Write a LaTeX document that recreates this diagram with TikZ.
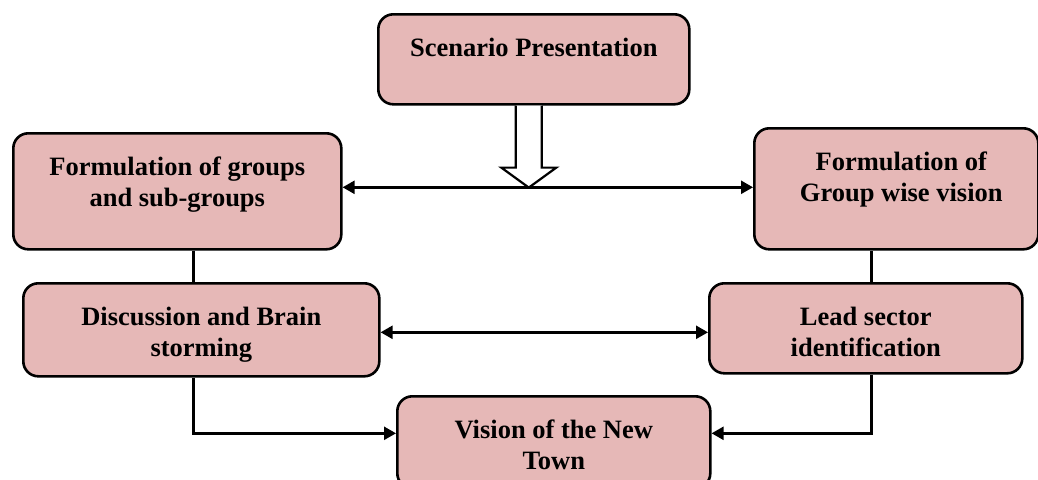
\documentclass[tikz,border=0pt]{standalone}
\usepackage{fontspec}
\setmainfont{Liberation Serif}
\usetikzlibrary{arrows.meta}
\definecolor{boxfill}{HTML}{E6B8B7}
% box text: fixed height, first baseline 42pt below the top edge
\newcommand\boxtxt[3]{\parbox[c][#1][t]{#2}{\centering\rule{0pt}{42pt}#3\par}}
\tikzset{
  stagebox/.style={draw=black, fill=boxfill, line width=2.6pt, rounded corners=15pt,
    inner sep=0pt, font=\fontsize{26.5}{31.5}\selectfont\bfseries, anchor=north west},
  link/.style={draw=black, line width=2.4pt},
  twoway/.style={link, {Triangle[length=12pt,width=13pt]}-{Triangle[length=12pt,width=13pt]}},
  oneway/.style={link, -{Triangle[length=12pt,width=13pt]}},
}
\begin{document}
\begin{tikzpicture}[x=1pt, y=-1pt]
\useasboundingbox (0,0) rectangle (1038,479);
\clip (0,0) rectangle (1038,479);

\node[stagebox] (sc)   at (377,13)  {\boxtxt{90pt}{311pt}{Scenario Presentation}};
\node[stagebox] (grp)  at (12,132)  {\boxtxt{116pt}{328pt}{Formulation of groups\\and sub-groups}};
\node[stagebox] (gw)   at (753,127) {\boxtxt{121pt}{284pt}{\hspace*{10pt}Formulation of\\\hspace*{10pt}Group wise vision}};
\node[stagebox] (disc) at (22,282)  {\boxtxt{93pt}{356pt}{Discussion and Brain\\storming}};
\node[stagebox] (lead) at (708,282) {\boxtxt{90pt}{313pt}{Lead sector\\identification}};
\node[stagebox] (vis)  at (396,395) {\boxtxt{92pt}{313pt}{Vision of the New\\Town}};

% two-way links between the side columns
\draw[twoway] ([yshift=4pt]grp.east) -- ([yshift=4pt]grp.east -| gw.west);
\draw[twoway] ([yshift=-2.5pt]disc.east) -- ([yshift=-2.5pt]disc.east -| lead.west);

% vertical ties inside each column
\draw[link] ([xshift=16pt]grp.south) -- ([xshift=16pt]grp.south |- disc.north);
\draw[link] ([xshift=5.5pt]lead.north) -- ([xshift=5.5pt]lead.north |- gw.south);

% feeds into the final vision
\draw[oneway] ([xshift=-8pt]disc.south) |- ([yshift=9pt]vis.west);
\draw[oneway] ([xshift=5.5pt]lead.south) |- ([yshift=9pt]vis.east);

% hollow block arrow below the scenario box
\coordinate (ha) at ([xshift=-5pt]sc.south);
\draw[line width=2.2pt, fill=white, line join=miter]
  ([xshift=-13pt]ha) -- ([xshift=-13pt,yshift=-62pt]ha) -- ([xshift=-27.5pt,yshift=-62pt]ha)
  -- ([yshift=-82pt]ha) -- ([xshift=27.5pt,yshift=-62pt]ha) -- ([xshift=13pt,yshift=-62pt]ha)
  -- ([xshift=13pt]ha);
\end{tikzpicture}
\end{document}
